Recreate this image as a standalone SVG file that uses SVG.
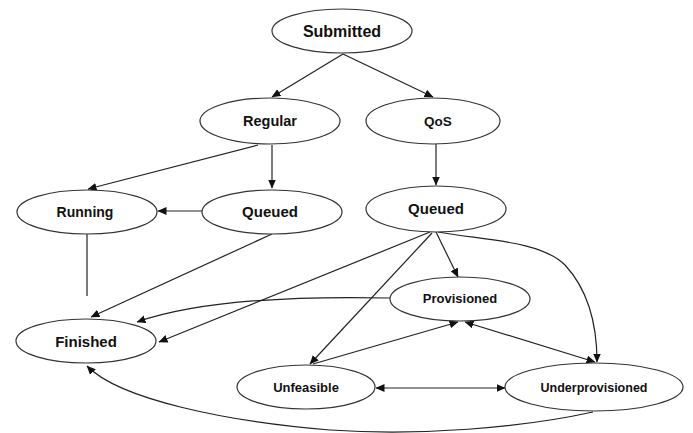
<svg xmlns="http://www.w3.org/2000/svg" width="693" height="433" viewBox="0 0 693 433">
<style>
.n ellipse{fill:#fff;stroke:#333;stroke-width:1.2}
.n text{font-family:"Liberation Sans",Arial,sans-serif;font-weight:bold;fill:#111;text-anchor:middle}
.e path{fill:none;stroke:#222;stroke-width:1.2}
</style>
<defs>
<marker id="a" markerWidth="9" markerHeight="8" refX="8.5" refY="4" orient="auto-start-reverse" markerUnits="userSpaceOnUse">
<path d="M0,0 L9,4 L0,8 Z" fill="#111"/>
</marker>
</defs>
<rect width="693" height="433" fill="#fff"/>
<g id="connectors" class="e">
<path d="M343,54 L272,97" marker-end="url(#a)"/>
<path d="M343,54 L433,97" marker-end="url(#a)"/>
<path d="M258,145 L88,189" marker-end="url(#a)"/>
<path d="M272,145 L272,188" marker-end="url(#a)"/>
<path d="M436,144 L436,185" marker-end="url(#a)"/>
<path d="M202,211 L158,211" marker-end="url(#a)"/>
<path d="M87,234 L87,296"/>
<path d="M272,234 L91,317" marker-end="url(#a)"/>
<path d="M430,232 L159,342" marker-end="url(#a)"/>
<path d="M390,298 C300,296 200,300 137,322" marker-end="url(#a)"/>
<path d="M432,233 L310,364" marker-end="url(#a)"/>
<path d="M436,232 L458,277" marker-end="url(#a)"/>
<path d="M438,232 C480,240 540,240 565,265 C590,292 597,330 597,362" marker-end="url(#a)"/>
<path d="M313,364 L458,322" marker-end="url(#a)"/>
<path d="M465,322 L595,362" marker-start="url(#a)" marker-end="url(#a)"/>
<path d="M376,388 L505,388" marker-start="url(#a)" marker-end="url(#a)"/>
<path d="M593,412 C520,428 420,436 330,430 C230,422 120,400 87,366" marker-end="url(#a)"/>
</g>
<g id="submitted" class="n"><ellipse cx="342" cy="31" rx="70" ry="22"/><text x="342" y="37" font-size="16">Submitted</text></g>
<g id="regular" class="n"><ellipse cx="270" cy="121" rx="70" ry="23"/><text x="270" y="126" font-size="14.5">Regular</text></g>
<g id="qos" class="n"><ellipse cx="433" cy="121" rx="67" ry="23"/><text x="438" y="126" font-size="13.5">QoS</text></g>
<g id="running" class="n"><ellipse cx="87" cy="212" rx="70" ry="22"/><text x="85" y="217" font-size="14">Running</text></g>
<g id="queued-regular" class="n"><ellipse cx="272" cy="212" rx="70" ry="22"/><text x="270" y="217" font-size="15">Queued</text></g>
<g id="queued-qos" class="n"><ellipse cx="436" cy="209" rx="70" ry="23"/><text x="436" y="214" font-size="15">Queued</text></g>
<g id="provisioned" class="n"><ellipse cx="460" cy="299" rx="70" ry="22"/><text x="460" y="303" font-size="13">Provisioned</text></g>
<g id="finished" class="n"><ellipse cx="86" cy="341" rx="70" ry="22"/><text x="86" y="347" font-size="15">Finished</text></g>
<g id="unfeasible" class="n"><ellipse cx="306" cy="387" rx="69" ry="22"/><text x="306" y="392" font-size="13">Unfeasible</text></g>
<g id="underprovisioned" class="n"><ellipse cx="594" cy="387" rx="89" ry="24"/><text x="594" y="392" font-size="12.5">Underprovisioned</text></g>
</svg>
